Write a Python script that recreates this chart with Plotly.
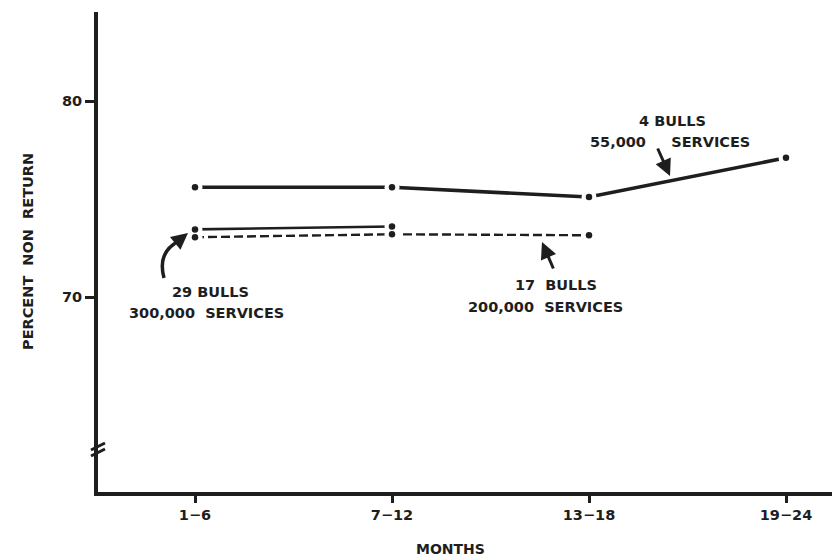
import plotly.graph_objects as go

# ---- data ----
months = ["1\u22126", "7\u221212", "13\u221218", "19\u221224"]
xpos = [0, 1, 2, 3]
four_bulls = [75.6, 75.6, 75.1, 77.1]          # 4 bulls, 55,000 services
seventeen_bulls = [73.05, 73.2, 73.15]         # 17 bulls, 200,000 services
twentynine_bulls = [73.45, 73.6]               # 29 bulls, 300,000 services
y_ticks = [70, 80]

INK = "#1e1e1e"
FONT = "DejaVu Sans"
FS = 14.5

# page offset (body margin) and pixel-to-data helpers for decorations
OFF = 8
X0PX, XSTEP = 195, 197       # window px of first category, px per category
Y80PX, YSTEP = 101, 19.6     # window px of 80, px per unit

PL, PT, PB = 98, 12, 492     # plot left/top/bottom in window px
WIN_W, WIN_H = 840, 559
FIG_W, FIG_H = WIN_W - OFF, WIN_H - OFF


def dx(px):
    return (px - X0PX) / XSTEP


def dy(py):
    return 80 - (py - Y80PX) / YSTEP


XR = [dx(PL), dx(WIN_W)]
YR = [dy(PB), dy(PT)]

fig = go.Figure()

series = [
    (four_bulls, dict(color=INK, width=3.6)),
    (twentynine_bulls, dict(color=INK, width=2.6)),
    (seventeen_bulls, dict(color=INK, width=2.4, dash="9px,4px")),
]

for vals, ln in series:
    fig.add_trace(go.Scatter(x=xpos[:len(vals)], y=vals, mode="lines",
                             line=ln, hoverinfo="skip", showlegend=False))
for vals, ln in series:
    fig.add_trace(go.Scatter(x=xpos[:len(vals)], y=vals, mode="markers",
                             marker=dict(size=15, color="white"),
                             hoverinfo="skip", showlegend=False))
for vals, ln in series:
    fig.add_trace(go.Scatter(x=xpos[:len(vals)], y=vals, mode="markers",
                             marker=dict(size=6.5, color=INK),
                             hoverinfo="skip", showlegend=False))

annots = []
tf = dict(family=FONT, size=FS, color=INK, weight="bold")
NB = "\u00a0"


def label(text, px, py):
    annots.append(dict(x=dx(px), y=dy(py), xref="x", yref="y", text=text,
                       showarrow=False, font=tf, xanchor="center", yanchor="middle"))


label("4 BULLS", 672, 121)
label("55,000" + NB * 5 + "SERVICES", 670, 142)
label("17" + NB * 2 + "BULLS", 556, 285)
label("200,000" + NB * 2 + "SERVICES", 545, 307)
label("29 BULLS", 210, 292)
label("300,000" + NB * 2 + "SERVICES", 206, 313)


def arrow(hx, hy, ax, ay):
    annots.append(dict(x=dx(hx), y=dy(hy), xref="x", yref="y", text="",
                       showarrow=True, arrowhead=2, arrowsize=1.1, arrowwidth=3,
                       arrowcolor=INK, ax=ax, ay=ay, standoff=0))


arrow(670, 176, -13, -29)
arrow(542, 242, 12, 28)
arrow(188, 233, -11, 9)

annots.append(dict(x=0, y=0.5, xref="paper", yref="paper", xshift=28 - PL,
                   xanchor="center", yanchor="middle",
                   text="PERCENT" + NB * 2 + "NON" + NB * 2 + "RETURN", textangle=-90,
                   showarrow=False, font=dict(family=FONT, size=14.5, color=INK, weight="bold")))
annots.append(dict(x=dx(450), y=0, xref="x", yref="paper", yshift=-(549 - PB),
                   text="MONTHS", showarrow=False, xanchor="center", yanchor="middle",
                   font=dict(family=FONT, size=14, color=INK, weight="bold")))

shapes = []
p0 = (dx(164), dy(278))
pc = (dx(157), dy(252))
p1 = (dx(179), dy(241))
shapes.append(dict(type="path", xref="x", yref="y",
                   path=f"M {p0[0]},{p0[1]} Q {pc[0]},{pc[1]} {p1[0]},{p1[1]}",
                   line=dict(color=INK, width=3.5)))
for off in (0, 6):
    shapes.append(dict(type="line", xref="paper", yref="y", xsizemode="pixel",
                       ysizemode="pixel", xanchor=0, yanchor=dy(450),
                       x0=-7, x1=7, y0=-6 + off, y1=1 + off,
                       line=dict(color=INK, width=3)))

fig.update_layout(
    width=FIG_W, height=FIG_H,
    margin=dict(l=PL - OFF, r=0, t=PT - OFF, b=FIG_H - (PB - OFF)),
    paper_bgcolor="white", plot_bgcolor="white",
    annotations=annots, shapes=shapes,
    xaxis=dict(range=XR, tickvals=xpos, ticktext=months, showgrid=False, zeroline=False,
               showline=True, linewidth=4, linecolor=INK, ticks="outside", ticklen=7,
               tickwidth=2.5, tickcolor=INK, tickfont=tf),
    yaxis=dict(range=YR, tickvals=y_ticks, showgrid=False, zeroline=False,
               showline=True, linewidth=4, linecolor=INK, ticks="outside", ticklen=9,
               tickwidth=2.5, tickcolor=INK, tickfont=tf),
)

fig.write_html("out.html")
